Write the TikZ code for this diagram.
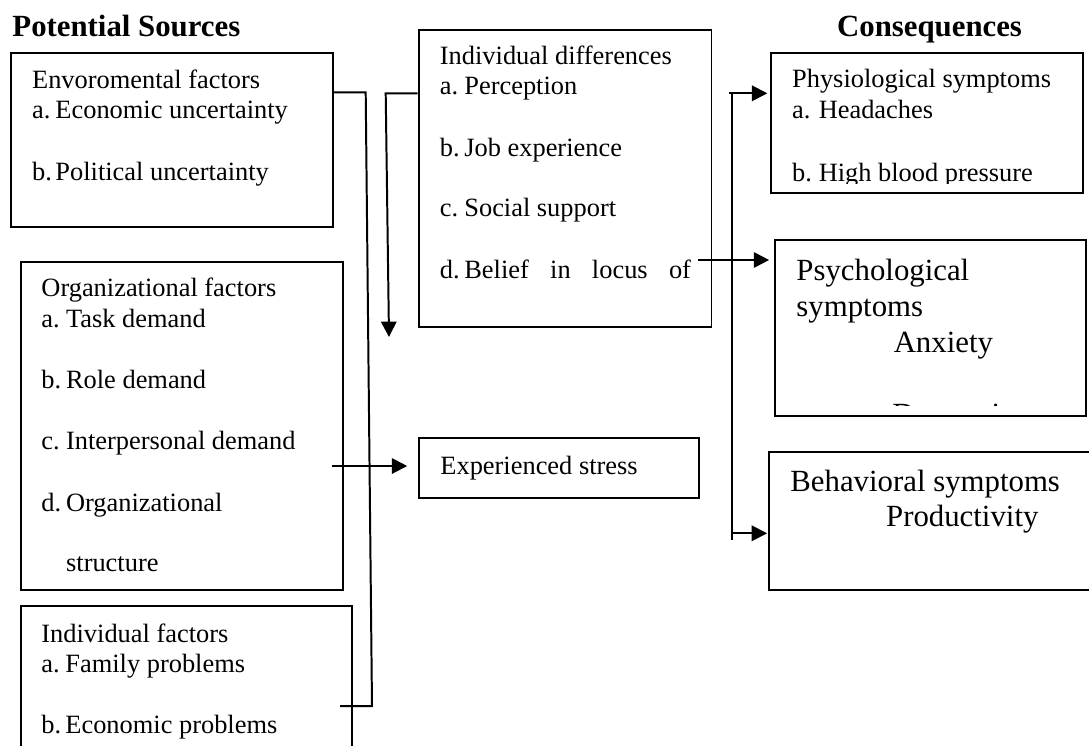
\documentclass[tikz,border=0pt]{standalone}
\usepackage{fontspec}
\setmainfont{Liberation Serif}
\usetikzlibrary{arrows.meta,fit}
\newcommand\itm[3][11pt]{\makebox[#1][l]{#2}#3}
\begin{document}
\begin{tikzpicture}[x=0.4545pt,y=-0.4545pt,
  box/.style={draw,line width=0.9pt,inner sep=0pt},
  txt/.style={anchor=base west,inner sep=0pt,font=\fontsize{12}{14}\selectfont},
  big/.style={anchor=base west,inner sep=0pt,font=\fontsize{14}{16}\selectfont},
  head/.style={anchor=base west,inner sep=0pt,font=\fontsize{14}{16}\selectfont\bfseries},
  conn/.style={line width=0.9pt},
  arr/.style={conn,-{Triangle[length=7pt,width=7pt]}}]
\useasboundingbox (0,0) rectangle (1089,745);
\clip (0,0) rectangle (1089,745);

% boxes
\node[box,fit={(11,52.7)(333,227.3)}] (env) {};
\node[box,fit={(20.7,262.3)(343.3,590)}] (org) {};
\node[box,fit={(21,606)(352.3,770)}] (indf) {};
\node[box,fit={(418.7,30)(711.5,327.3)}] (idiff) {};
\node[box,fit={(419,438.3)(699.3,498.3)}] (stress) {};
\node[box,fit={(771,52.7)(1083.3,192.7)}] (phys) {};
\node[box,fit={(775,240)(1086,415.7)}] (psych) {};
\node[box,fit={(769,452.3)(1110,590)}] (behav) {};

% headings
\node[head] (hsrc) at (12,36) {Potential Sources};
\node[head] (hcon) at (836.7,36.7) {Consequences};

% environmental
\node[txt] (envT) at (31.7,88) {Envoromental factors};
\node[txt] (envA) at (31.7,118.3) {\itm[10.6pt]{a.}{Economic uncertainty}};
\node[txt] (envB) at (31.7,180) {\itm[10.6pt]{b.}{Political uncertainty}};

% organizational
\node[txt] (orgT) at (41,296.7) {Organizational factors};
\node[txt] (orgA) at (41,327.3) {\itm[11.2pt]{a.}{Task demand}};
\node[txt] (orgB) at (41,388.3) {\itm[11.2pt]{b.}{Role demand}};
\node[txt] (orgC) at (41,449.3) {\itm[11.2pt]{c.}{Interpersonal demand}};
\node[txt] (orgD) at (41,511.7) {\itm[11.2pt]{d.}{Organizational}};
\node[txt] (orgE) at (65.7,571.7) {structure};

% individual factors
\node[txt] (indT) at (41,642) {Individual factors};
\node[txt] (indA) at (41,672) {\itm[10.9pt]{a.}{Family problems}};
\node[txt] (indB) at (41,733) {\itm[10.9pt]{b.}{Economic problems}};

% individual differences
\node[txt] (idT) at (439.5,64) {Individual differences};
\node[txt] (idA) at (439.5,94.3) {\itm[11.1pt]{a.}{Perception}};
\node[txt] (idB) at (439.5,156.7) {\itm[11.1pt]{b.}{Job experience}};
\node[txt] (idC) at (439.5,216.7) {\itm[11.1pt]{c.}{Social support}};
\node[txt] (idD) at (439.5,278.3) {\itm[11.1pt]{d.}{\makebox[103pt][s]{Belief in locus of}}};

% experienced stress
\node[txt] (stT) at (440,474) {Experienced stress};

% physiological
\node[txt] (phT) at (791.7,87.3) {Physiological symptoms};
\node[txt] (phA) at (791.7,118.3) {\itm[12.1pt]{a.}{Headaches}};
\begin{scope}
  \clip (771,52.7) rectangle (1084,183.5);
  \node[txt] (phB) at (791.7,181.7) {\itm[12.1pt]{b.}{High blood pressure}};
\end{scope}

% psychological
\node[big] (psT) at (796,280) {Psychological};
\node[big] (psU) at (796,316) {symptoms};
\node[big] (psA) at (893.3,352) {Anxiety};
\begin{scope}
  \clip (775,240) rectangle (1086,405.5);
  \node[big] (psD) at (892,424) {Depression};
\end{scope}

% behavioral
\node[big] (bhT) at (790,491.7) {Behavioral symptoms};
\node[big] (bhP) at (885.7,526.7) {Productivity};

% connectors
\coordinate (e1) at (365.7,92.3);
\coordinate (e2) at (372,706);
\coordinate (e3) at (340,706);
\draw[conn] (env.east |- e1) -- (e1) -- (e2) -- (e3);

\coordinate (d1) at (385.7,93.3);
\coordinate (d2) at (389,337);
\draw[arr] (idiff.west |- d1) -- (d1) -- (d2);

\coordinate (o1) at (332,466);
\draw[arr,shorten >=4.9pt] (o1) -- (o1 -| stress.west);

\coordinate (f1) at (698.3,260);
\draw[arr,shorten >=2.2pt] (f1) -- (f1 -| psych.west);

\coordinate (r0) at (729.3,93.3);
\coordinate (r1) at (731.7,93.3);
\coordinate (r2) at (731.7,540);
\coordinate (r3) at (731.7,533.3);
\draw[conn] (r1) -- (r2);
\draw[arr,shorten >=1.2pt] (r0) -- (r0 -| phys.west);
\draw[arr,shorten >=0.4pt] (r3) -- (r3 -| behav.west);
\end{tikzpicture}
\end{document}
